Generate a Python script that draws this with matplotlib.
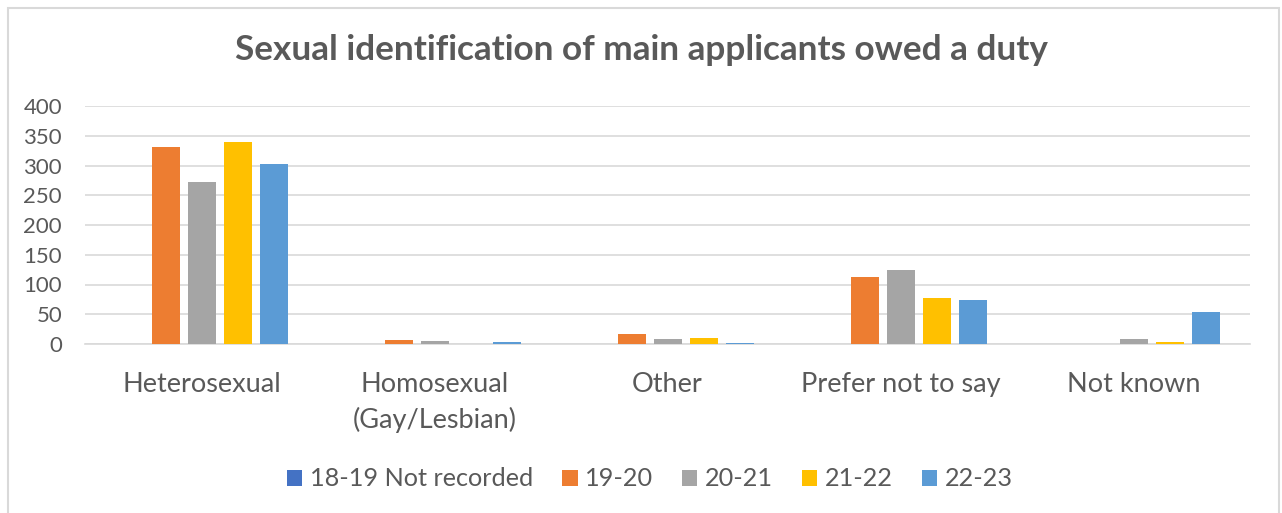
import matplotlib
matplotlib.use("Agg")
import matplotlib.pyplot as plt
from matplotlib.patches import Rectangle, Patch
import numpy as np

categories = ["Heterosexual", "Homosexual\n(Gay/Lesbian)", "Other", "Prefer not to say", "Not known"]
series_names = ["18-19 Not recorded", "19-20", "20-21", "21-22", "22-23"]
s1819 = [0, 0, 0, 0, 0]
s1920 = [331, 7, 17, 113, 0]
s2021 = [272, 5, 8, 124, 8]
s2122 = [340, 0, 10, 77, 4]
s2223 = [302, 3, 2, 74, 54]
colors = ["#4472C4", "#ED7D31", "#A5A5A5", "#FFC000", "#5B9BD5"]
yticks = [0, 50, 100, 150, 200, 250, 300, 350, 400]

fig = plt.figure(figsize=(12.82, 5.13), dpi=100)
font = "Lato"
text_col = "#595959"

# chart border
fig.patches.append(Rectangle((7.5/1282, -0.01), (1279-7.5)/1282, 1 - 7.5/513 + 0.01,
                             transform=fig.transFigure, fill=False,
                             edgecolor="#d9d9d9", linewidth=1.5))

ax = fig.add_axes([85/1282, 1 - 344/513, (1250-85)/1282, (344-106)/513])
x = np.arange(len(categories))
data = [s1819, s1920, s2021, s2122, s2223]
step = 36/233
width = 28/233
for i, (vals, c) in enumerate(zip(data, colors)):
    ax.bar(x + (i - 2) * step, vals, width=width, color=c, zorder=3)

ax.set_xlim(-0.5, len(categories) - 0.5)
ax.set_ylim(0, 400)
ax.set_yticks(yticks)
ax.set_yticklabels([str(v) for v in yticks], fontsize=16, color=text_col, family=font)
ax.yaxis.grid(True, color="#d9d9d9", linewidth=1.2, zorder=0)
ax.set_xticks(x)
ax.set_xticklabels(categories, fontsize=19.5, color=text_col, family=font, linespacing=1.45)
ax.tick_params(axis="both", length=0)
ax.tick_params(axis="x", pad=20.5)
ax.tick_params(axis="y", pad=16.5)
for s in ["top", "right", "left"]:
    ax.spines[s].set_visible(False)
ax.spines["bottom"].set_color("#d9d9d9")
ax.spines["bottom"].set_linewidth(1.2)

fig.text(641/1282, 1 - 50/513, "Sexual identification of main applicants owed a duty",
         ha="center", va="center", fontsize=25.3, fontweight="bold", color=text_col, family=font)

handles = [Patch(facecolor=c, edgecolor="none") for c in colors]
fig.legend(handles, series_names, loc="center", bbox_to_anchor=(650/1282, 1 - 479/513),
           ncol=5, frameon=False, prop={"family": font, "size": 18.2},
           labelcolor=text_col, handlelength=0.6, handleheight=0.6,
           handletextpad=0.3, columnspacing=1.15)

fig.savefig("out.png", dpi=100)
